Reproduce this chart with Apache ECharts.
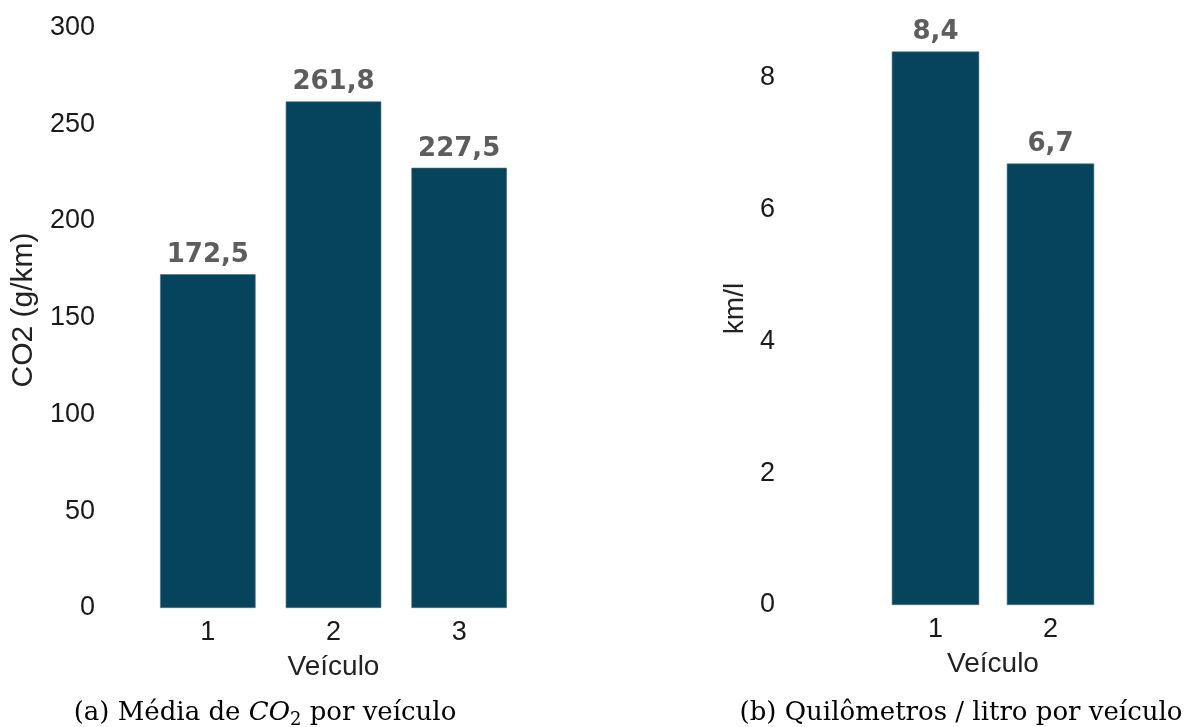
<!DOCTYPE html>
<html>
<head>
<meta charset="utf-8">
<script src="https://cdn.jsdelivr.net/npm/echarts@6/dist/echarts.min.js"></script>
<style>
  html, body { margin: 0; padding: 0; background: #ffffff; }
  #chart { width: 1184px; height: 727px; }
</style>
</head>
<body>
<div id="chart"></div>
<script>
// Average CO2 emission per vehicle (g/km)
const co2Vehicles = ['1', '2', '3'];
const co2Values = [172.5, 261.8, 227.5];
const co2Ticks = [0, 50, 100, 150, 200, 250, 300];

// Kilometres per litre per vehicle
const kmlVehicles = ['1', '2'];
const kmlValues = [8.4, 6.7];
const kmlTicks = [0, 2, 4, 6, 8];

const barColor = '#06445e';
const sansFont = '"Liberation Sans", Arial, sans-serif';
const serifFont = '"DejaVu Serif", serif';

const fmtComma = v => v.toFixed(1).replace('.', ',');

// only the listed tick values get a label (the axis top is padded above the last tick)
function tickFormatter(ticks) {
  return v => (ticks.indexOf(Math.round(v * 1000) / 1000) >= 0 ? String(v) : '');
}

const chart = echarts.init(document.getElementById('chart'), null, { renderer: 'canvas' });

function xAxisFor(idx, cats) {
  return {
    type: 'category',
    gridIndex: idx,
    data: cats,
    name: 'Veículo',
    nameLocation: 'middle',
    nameGap: 45,
    nameTextStyle: { fontFamily: sansFont, fontSize: 28, color: '#222222' },
    axisLine: { show: false },
    axisTick: { show: false },
    axisLabel: { fontFamily: sansFont, fontSize: 27, color: '#1a1a1a', margin: 11 },
    splitLine: { show: false }
  };
}

function yAxisFor(idx, name, nameSize, max, interval, ticks, labelMargin, nameGap) {
  return {
    type: 'value',
    gridIndex: idx,
    min: 0,
    max: max,
    interval: interval,
    name: name,
    nameLocation: 'middle',
    nameGap: nameGap,
    nameTextStyle: { fontFamily: sansFont, fontSize: nameSize, color: '#222222' },
    axisLine: { show: false },
    axisTick: { show: false },
    splitLine: { show: false },
    axisLabel: {
      fontFamily: sansFont, fontSize: 27, color: '#1a1a1a',
      margin: labelMargin,
      formatter: tickFormatter(ticks)
    }
  };
}

function barSeries(idx, values) {
  return {
    type: 'bar',
    xAxisIndex: idx,
    yAxisIndex: idx,
    data: values,
    barCategoryGap: '24%',
    itemStyle: { color: barColor, borderColor: '#4d7185', borderWidth: 0.6 },
    label: {
      show: true,
      position: 'top',
      distance: 6,
      formatter: p => fmtComma(p.value),
      fontFamily: '"DejaVu Sans", sans-serif',
      fontWeight: 'bold',
      fontSize: 26,
      color: '#5d5d5d'
    },
    silent: true
  };
}

const captionRich = {
  r: { fontFamily: serifFont, fontSize: 26, color: '#111111', lineHeight: 32, verticalAlign: 'middle' },
  i: { fontFamily: serifFont, fontSize: 26, fontStyle: 'italic', color: '#111111', lineHeight: 32, verticalAlign: 'middle' },
  s: { fontFamily: serifFont, fontSize: 18, color: '#111111', lineHeight: 20, verticalAlign: 'bottom' }
};

chart.setOption({
  animation: false,
  backgroundColor: '#ffffff',
  grid: [
    { left: 145, top: 12, width: 377, height: 596 },
    { left: 878, top: 12, width: 230, height: 593 }
  ],
  xAxis: [xAxisFor(0, co2Vehicles), xAxisFor(1, kmlVehicles)],
  yAxis: [
    yAxisFor(0, 'CO2 (g/km)', 30, 308, 50, co2Ticks, 50, 106),
    yAxisFor(1, 'km/l', 28, 9, 2, kmlTicks, 103, 129)
  ],
  series: [barSeries(0, co2Values), barSeries(1, kmlValues)],
  graphic: [
    {
      type: 'text',
      style: {
        text: '{r|(a) Média de }{i|CO}{s|2}{r| por veículo}',
        rich: captionRich,
        x: 265, y: 713,
        align: 'center', verticalAlign: 'middle'
      }
    },
    {
      type: 'text',
      style: {
        text: '{r|(b) Quilômetros / litro por veículo}',
        rich: captionRich,
        x: 961, y: 713,
        align: 'center', verticalAlign: 'middle'
      }
    }
  ]
});
</script>
</body>
</html>
